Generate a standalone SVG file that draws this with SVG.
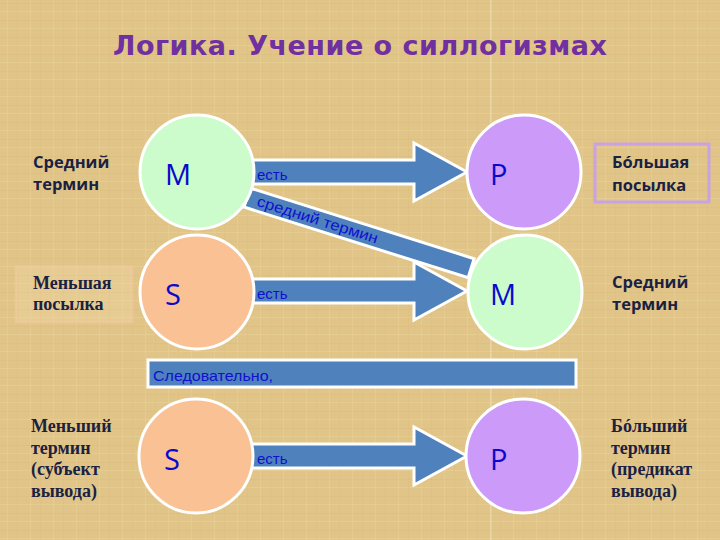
<svg xmlns="http://www.w3.org/2000/svg" width="720" height="540" viewBox="0 0 720 540">
<defs>
<pattern id="tex" width="23" height="17" patternUnits="userSpaceOnUse">
<rect width="23" height="17" fill="#e1c588"/>
<line x1="0" y1="3.5" x2="23" y2="3.5" stroke="#cfae6e" stroke-width="1" opacity="0.25"/>
<line x1="0" y1="11.5" x2="23" y2="11.5" stroke="#efd9a4" stroke-width="1" opacity="0.3"/>
<line x1="7.5" y1="0" x2="7.5" y2="17" stroke="#edd6a0" stroke-width="1" opacity="0.3"/>
<line x1="17.5" y1="0" x2="17.5" y2="17" stroke="#cfae6e" stroke-width="1" opacity="0.2"/>
</pattern>
<style>
.circ{stroke:#ffffff;stroke-width:3}
.m{fill:#ccfccc}.s{fill:#fac194}.p{fill:#cc9af8}
.letter{font-family:"Open Sans","Noto Sans",sans-serif;font-size:29px;fill:#0a0acc}
.arrow{fill:#4f81bd;stroke:#ffffff;stroke-width:3;stroke-linejoin:miter}
.lbl{font-family:"Liberation Sans",Arial,sans-serif;font-size:15px;fill:#1010d0}
.sans{font-family:"Open Sans","Noto Sans",sans-serif;font-weight:bold;font-size:16.5px;fill:#1a2142}
.serif{font-family:"Liberation Serif","Times New Roman",serif;font-weight:bold;font-size:18px;fill:#1a2142}
</style>
</defs>
<rect width="720" height="540" fill="url(#tex)"/>
<line x1="491" y1="0" x2="491" y2="540" stroke="#ffffff" stroke-opacity="0.35" stroke-width="1"/>

<text x="360" y="55" text-anchor="middle" textLength="494" lengthAdjust="spacing" font-family="DejaVu Sans, Verdana, sans-serif" font-weight="bold" font-size="27" fill="#7030a0">Логика. Учение о силлогизмах</text>

<g id="connectors">
<polygon class="arrow" points="240,160 414,160 414,143 467,172 414,201 414,184 240,184"/>
<g transform="translate(250,188) rotate(17.5)">
<rect class="arrow" x="0" y="0" width="235" height="20"/>
<text class="lbl" x="11" y="15" font-size="16" textLength="126" lengthAdjust="spacingAndGlyphs">средний термин</text>
</g>
<polygon class="arrow" points="240,279 414,279 414,262 467,291 414,320 414,303 240,303"/>
<polygon class="arrow" points="240,444 414,444 414,427 467,456 414,485 414,468 240,468"/>
<text class="lbl" x="257" y="180">есть</text>
<text class="lbl" x="257" y="299">есть</text>
<text class="lbl" x="257" y="464">есть</text>
</g>

<g id="conclusion-bar">
<rect x="148" y="360" width="428" height="27" fill="#4f81bd" stroke="#ffffff" stroke-width="3"/>
<text class="lbl" x="153" y="381" textLength="120" lengthAdjust="spacingAndGlyphs">Следовательно,</text>
</g>

<g id="node-M-top"><circle class="circ m" cx="197" cy="172" r="57"/><text class="letter" x="165" y="185">M</text></g>
<g id="node-P-top"><circle class="circ p" cx="524" cy="172" r="57"/><text class="letter" x="490" y="185">P</text></g>
<g id="node-S-mid"><circle class="circ s" cx="197" cy="292" r="57"/><text class="letter" x="165" y="305">S</text></g>
<g id="node-M-mid"><circle class="circ m" cx="525" cy="292" r="57"/><text class="letter" x="490" y="305">M</text></g>
<g id="node-S-bot"><circle class="circ s" cx="196" cy="456" r="57"/><text class="letter" x="164" y="470">S</text></g>
<g id="node-P-bot"><circle class="circ p" cx="523" cy="456" r="57"/><text class="letter" x="490" y="470">P</text></g>

<g id="label-middle-term-left"><text class="sans" x="33" y="168">Средний</text><text class="sans" x="33" y="190">термин</text></g>
<g id="label-minor-premise">
<rect x="16" y="267" width="116" height="55" fill="#f3d9ab" fill-opacity="0.3" stroke="#f4c9a0" stroke-opacity="0.6" stroke-width="3"/>
<text class="serif" x="33" y="289">Меньшая</text><text class="serif" x="33" y="310">посылка</text>
</g>
<g id="label-major-premise">
<rect x="595" y="144" width="114" height="58" fill="none" stroke="#c9a2e2" stroke-width="3"/>
<text class="sans" x="612" y="168">Бóльшая</text><text class="sans" x="612" y="191">посылка</text>
</g>
<g id="label-middle-term-right"><text class="sans" x="612" y="288">Средний</text><text class="sans" x="612" y="310">термин</text></g>
<g id="label-minor-term">
<text class="serif" x="31" y="432">Меньший</text><text class="serif" x="31" y="454">термин</text><text class="serif" x="31" y="475">(субъект</text><text class="serif" x="31" y="497">вывода)</text>
</g>
<g id="label-major-term">
<text class="serif" x="611" y="432">Бóльший</text><text class="serif" x="611" y="454">термин</text><text class="serif" x="611" y="475">(предикат</text><text class="serif" x="611" y="497">вывода)</text>
</g>
</svg>
